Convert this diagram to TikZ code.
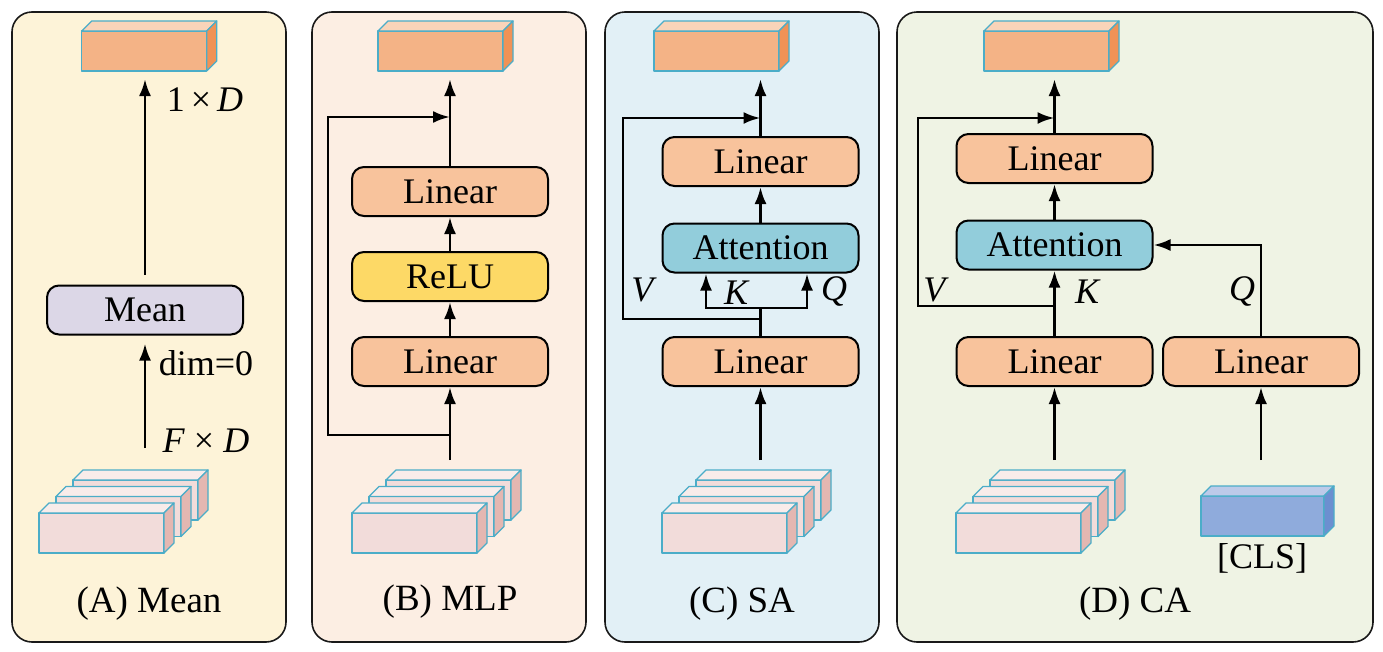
\documentclass[tikz,border=0pt]{standalone}
\usepackage{fontspec}
\setmainfont{Liberation Serif}
\usetikzlibrary{arrows.meta}
\definecolor{pA}{HTML}{FDF3D8}
\definecolor{pB}{HTML}{FCEEE3}
\definecolor{pC}{HTML}{E2F0F6}
\definecolor{pD}{HTML}{EFF3E4}
\definecolor{meanc}{HTML}{DCD7E7}
\definecolor{linc}{HTML}{F8C39C}
\definecolor{reluc}{HTML}{FDD966}
\definecolor{attc}{HTML}{92CDDB}
\definecolor{edge}{HTML}{4BADC8}
\definecolor{oF}{HTML}{F4B386}
\definecolor{oT}{HTML}{F9D4B9}
\definecolor{oS}{HTML}{F09256}
\definecolor{iF}{HTML}{F2DCDA}
\definecolor{iT}{HTML}{F8ECEA}
\definecolor{iS}{HTML}{E4B7B1}
\definecolor{cF}{HTML}{8FABDC}
\definecolor{cT}{HTML}{BDCAE9}
\definecolor{cS}{HTML}{6C8FD0}
% #1 name, #2 x, #3 y (front top-left), #4 width, #5 front, #6 top, #7 side
\newcommand\mkcube[7]{%
  \node[face, fill=#5, minimum width=#4pt, minimum height=40pt, anchor=north west] (#1) at (#2,#3) {};
  \draw[face, fill=#6] (#1.north west) -- ++(10,-10) -- ++(#4,0) -- (#1.north east) -- cycle;
  \draw[face, fill=#7] (#1.north east) -- ++(10,-10) -- ++(0,40) -- (#1.south east) -- cycle;}
\newcommand\mkstack[2]{%
  \mkcube{#1c}{#2+34}{480}{125}{iF}{iT}{iS}
  \mkcube{#1b}{#2+17}{496.5}{125}{iF}{iT}{iS}
  \mkcube{#1a}{#2}{513}{125}{iF}{iT}{iS}}
\begin{document}
\begin{tikzpicture}[x=1pt,y=-1pt,
  panel/.style={draw=black!90, line width=1.6pt, rounded corners=20pt},
  face/.style={draw=edge, line width=1.3pt, line join=round, inner sep=0pt, outer sep=0pt},
  blk/.style={draw=black, line width=2pt, rounded corners=12pt, minimum width=196pt, minimum height=49pt, font=\fontsize{36}{40}\selectfont, inner sep=0pt},
  arr/.style={line width=2.8pt, -{Latex[length=17pt,width=12pt]}},
  ln/.style={line width=2.8pt},
  lbl/.style={font=\fontsize{36}{40}\selectfont, inner sep=0pt},
  captxt/.style={font=\fontsize{37}{40}\selectfont, inner sep=0pt}]
\useasboundingbox (0,0) rectangle (1383,651);
% panels
\draw[panel, fill=pA] (12,12) rectangle (286,642);
\draw[panel, fill=pB] (312,12) rectangle (586,642);
\draw[panel, fill=pC] (605,12) rectangle (879,642);
\draw[panel, fill=pD] (897,12) rectangle (1373,642);

% ---------- (A) Mean ----------
\mkcube{outA}{81.7}{31}{125}{oF}{oT}{oS}
\mkstack{stA}{39}
\node[blk, fill=meanc] (mean) at (145,310) {Mean};
\coordinate (inA) at (145,448);
\draw[arr, shorten >=8pt] (inA) -- (mean.south);
\draw[arr, shorten <=10pt, shorten >=8pt] (mean.north) -- (mean.north |- outA.south);
\node[lbl] (lA1) at (205,100) {1\,×\,\textit{D}};
\node[lbl] (lA2) at (206,363) {dim=0};
\node[lbl] (lA3) at (206,441) {\textit{F} × \textit{D}};
\node[captxt] (capA) at (149,604) {(A) Mean};

% ---------- (B) MLP ----------
\mkcube{outB}{378}{31}{125}{oF}{oT}{oS}
\mkstack{stB}{352}
\node[blk, fill=linc] (linB1) at (450,361.5) {Linear};
\node[blk, fill=reluc] (relu) at (450,276.5) {ReLU};
\node[blk, fill=linc] (linB2) at (450,191.5) {Linear};
\coordinate (inB) at (450,460);
\coordinate (sB) at (450,435);
\coordinate (jB) at (450,117);
\draw[arr] (inB) -- (linB1.south);
\draw[arr] (linB1.north) -- (relu.south);
\draw[arr] (relu.north) -- (linB2.south);
\draw[arr, shorten >=8pt] (linB2.north) -- (linB2.north |- outB.south);
\draw[arr] (sB) -- ++(-122,0) |- (jB);
\node[captxt] (capB) at (450,602) {(B) MLP};

% ---------- (C) SA ----------
\mkcube{outC}{654}{31}{125}{oF}{oT}{oS}
\mkstack{stC}{662}
\node[blk, fill=linc] (linC1) at (760.5,361.5) {Linear};
\node[blk, fill=attc] (attC) at (760.5,248) {Attention};
\node[blk, fill=linc] (linC2) at (760.5,161.5) {Linear};
\coordinate (inC) at (760.5,460);
\coordinate (sC) at (760.5,308);
\coordinate (vC) at (760.5,319);
\coordinate (jC) at (760.5,118);
\draw[arr] (inC) -- (linC1.south);
\draw[ln] (linC1.north) -- (sC);
\draw[arr] (sC) -| ([xshift=-54.5pt]attC.south);
\draw[arr] (sC) -| ([xshift=46.5pt]attC.south);
\draw[arr] (attC.north) -- (linC2.south);
\draw[arr, shorten >=8pt] (linC2.north) -- (linC2.north |- outC.south);
\draw[arr] (vC) -- ++(-137.5,0) |- (jC);
\node[lbl] (vCl) at (644,290) {\textit{V}};
\node[lbl] (kCl) at (737,293) {\textit{K}};
\node[lbl] (qCl) at (834,291) {\textit{Q}};
\node[captxt] (capC) at (742,604) {(C) SA};

% ---------- (D) CA ----------
\mkcube{outD}{984}{31}{125}{oF}{oT}{oS}
\mkstack{stD}{956}
\mkcube{cls}{1201}{496}{123}{cF}{cT}{cS}
\node[blk, fill=linc] (linD1) at (1054.5,361.5) {Linear};
\node[blk, fill=linc] (linR) at (1261,361.5) {Linear};
\node[blk, fill=attc] (attD) at (1054.5,245) {Attention};
\node[blk, fill=linc] (linD2) at (1054.5,158.5) {Linear};
\coordinate (inD) at (1054.5,460);
\coordinate (inR) at (1261,460);
\coordinate (vD) at (1054.5,306);
\coordinate (jD) at (1054.5,118);
\draw[arr] (inD) -- (linD1.south);
\draw[arr] (inR) -- (linR.south);
\draw[arr] (linD1.north) -- (attD.south);
\draw[arr] (linR.north) |- (attD.east);
\draw[arr] (attD.north) -- (linD2.south);
\draw[arr, shorten >=8pt] (linD2.north) -- (linD2.north |- outD.south);
\draw[arr] (vD) -- ++(-136.5,0) |- (jD);
\node[lbl] (vDl) at (936,290) {\textit{V}};
\node[lbl] (kDl) at (1088,292) {\textit{K}};
\node[lbl] (qDl) at (1242,291) {\textit{Q}};
\node[lbl] (clsl) at (1262,558) {[CLS]};
\node[captxt] (capD) at (1135,604) {(D) CA};
\end{tikzpicture}
\end{document}
